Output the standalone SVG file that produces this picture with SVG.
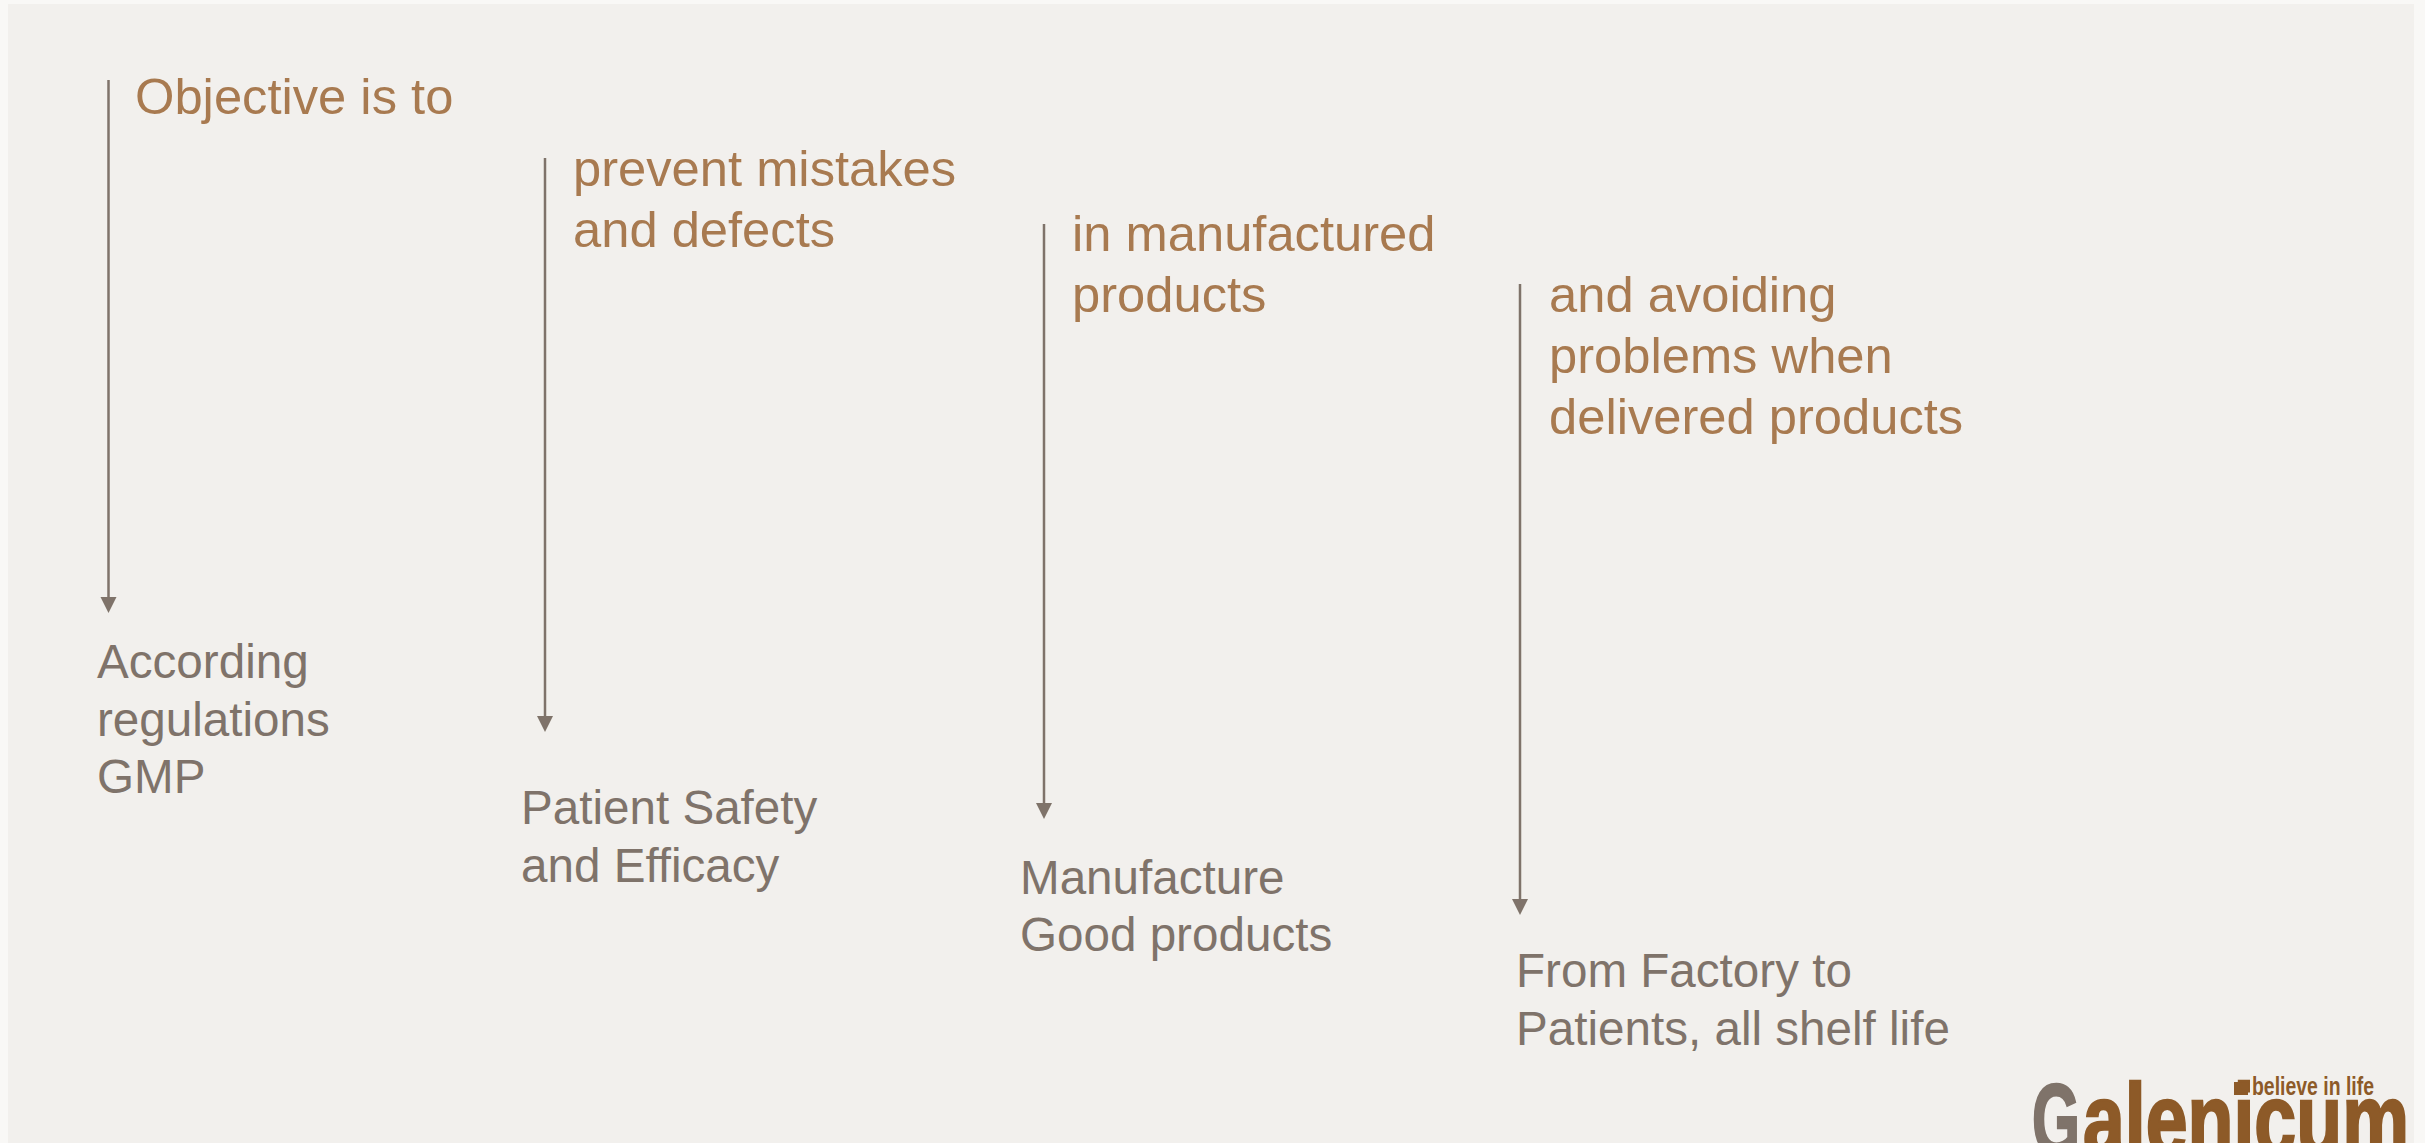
<svg xmlns="http://www.w3.org/2000/svg" width="2425" height="1143" viewBox="0 0 2425 1143">
<style>
text{font-family:"Liberation Sans",Arial,sans-serif}
.o{font-size:50.7px;fill:#a87a50}
.g{font-size:47.6px;fill:#7f736a}
.c{stroke:#7f736a;stroke-width:2.5;fill:none}
.h{fill:#7f736a}
.lg{font-weight:700;font-size:100px;stroke-width:2.500;stroke-linejoin:miter}
</style>
<rect width="2425" height="1143" fill="#f9f8f6"/>
<rect x="8" y="4" width="2406" height="1139" fill="#f2f0ed"/>
<g id="connectors">
<path class="c" d="M108.500 80V600"/><path class="h" d="M100.500 597H116.500L108.500 613Z"/>
<path class="c" d="M545 158V720"/><path class="h" d="M537 716H553L545 732Z"/>
<path class="c" d="M1044 224V805"/><path class="h" d="M1036 803H1052L1044 819Z"/>
<path class="c" d="M1520 284V900"/><path class="h" d="M1512 899H1528L1520 915Z"/>
</g>
<g id="n1"><text class="o" x="135" y="114">Objective is to</text></g>
<g id="n2"><text class="o" x="573" y="186">prevent mistakes</text><text class="o" x="573" y="247">and defects</text></g>
<g id="n3"><text class="o" x="1072" y="251">in manufactured</text><text class="o" x="1072" y="312">products</text></g>
<g id="n4"><text class="o" x="1549" y="312">and avoiding</text><text class="o" x="1549" y="373">problems when</text><text class="o" x="1549" y="434">delivered products</text></g>
<g id="n5"><text class="g" x="97" y="678">According</text><text class="g" x="97" y="736">regulations</text><text class="g" x="97" y="793">GMP</text></g>
<g id="n6"><text class="g" x="521" y="824">Patient Safety</text><text class="g" x="521" y="882">and Efficacy</text></g>
<g id="n7"><text class="g" x="1020" y="894">Manufacture</text><text class="g" x="1020" y="951">Good products</text></g>
<g id="n8"><text class="g" x="1516" y="987">From Factory to</text><text class="g" x="1516" y="1045">Patients, all shelf life</text></g>
<g id="logo">
<rect x="2234" y="1082" width="14" height="13" fill="#8d5a28"/>
<text x="2252" y="1095" font-size="25" font-weight="700" fill="#8d5a28" textLength="122" lengthAdjust="spacingAndGlyphs">believe in life</text>
<text class="lg" x="2032" y="1154" fill="#7f736a" stroke="#7f736a" textLength="48" lengthAdjust="spacingAndGlyphs">G</text>
<text class="lg" x="2083" y="1154" fill="#8d5a28" stroke="#8d5a28" textLength="326" lengthAdjust="spacingAndGlyphs">alenicum</text>
</g>
</svg>
